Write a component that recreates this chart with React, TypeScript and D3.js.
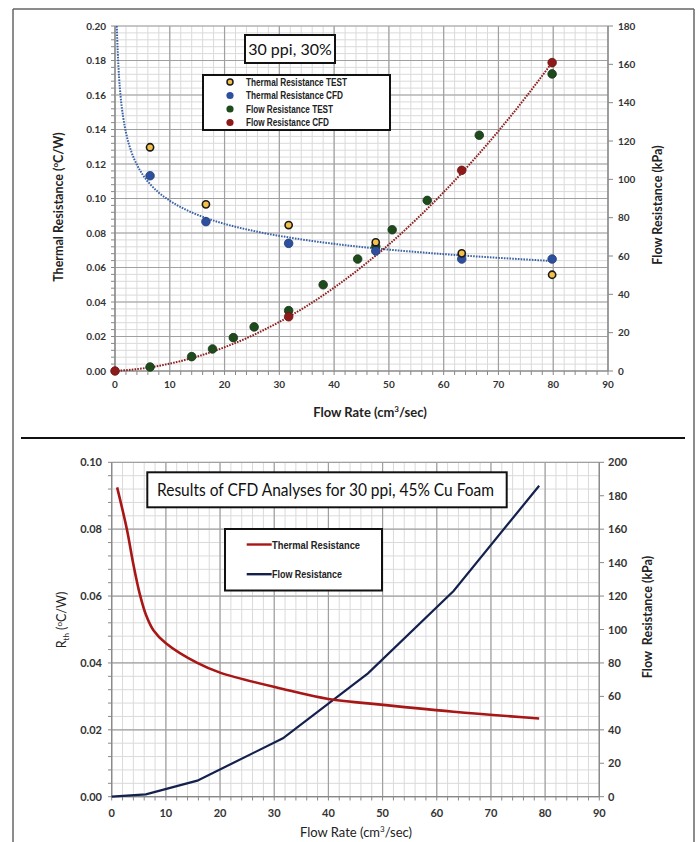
import React from 'react';
import * as d3 from 'd3';

// ---- top chart: 30 ppi, 30% ----
const thermalTestX = [6.4, 16.6, 31.7, 47.6, 63.3, 79.8];
const thermalTestY = [0.1297, 0.0966, 0.0846, 0.0746, 0.0682, 0.0558];
const thermalCfdX = [6.4, 16.6, 31.7, 47.6, 63.3, 79.8];
const thermalCfdY = [0.1132, 0.0866, 0.074, 0.0696, 0.0649, 0.0649];
const flowTestX = [6.4, 14.0, 17.8, 21.6, 25.4, 31.7, 38.0, 44.3, 47.6, 50.6, 57.0, 66.5, 79.8];
const flowTestY = [2.1, 7.5, 11.5, 17.4, 23, 31.5, 45, 58.4, 65, 73.7, 89, 123, 155];
const flowCfdX = [0, 31.7, 63.3, 79.8];
const flowCfdY = [0, 28.3, 104.7, 160.9];

// trendlines
const thermalTrendX = [0.32, 0.5, 0.75, 1, 1.5, 2, 3, 4, 5, 6.5, 8, 10, 13, 16.6, 20, 25, 31.6, 40, 47.5, 55, 63.3, 70, 79.6];
const thermalTrendY = [0.2, 0.1851, 0.170, 0.160, 0.147, 0.1383, 0.127, 0.1196, 0.1141, 0.108, 0.1034, 0.0987, 0.0934, 0.0887, 0.0853, 0.0814, 0.0775, 0.0737, 0.0711, 0.069, 0.067, 0.0656, 0.0638];
const flowTrendX = [0, 5, 10, 15, 20, 25, 30, 35, 40, 45, 50, 55, 60, 65, 70, 75, 79.8];
const flowTrendY = [0, 1.34, 3.85, 7.53, 12.4, 18.4, 25.6, 33.9, 43.5, 54.2, 66.0, 79.1, 93.3, 108.7, 125.2, 142.9, 161];

const topXTicks = [0, 10, 20, 30, 40, 50, 60, 70, 80, 90];
const topLeftTicks = [0, 0.02, 0.04, 0.06, 0.08, 0.1, 0.12, 0.14, 0.16, 0.18, 0.2];
const topRightTicks = [0, 20, 40, 60, 80, 100, 120, 140, 160, 180];
const topLegend = ['Thermal Resistance TEST', 'Thermal Resistance CFD', 'Flow Resistance TEST', 'Flow Resistance CFD'];
const topLegendWidth = [101, 97, 87, 83];

// ---- bottom chart: CFD, 30 ppi, 45% Cu foam ----
const cfdThermalX = [1.0, 2.8, 4.0, 5.2, 6.3, 7.7, 10, 15.8, 20, 31.6, 40, 47.3, 63.1, 78.9];
const cfdThermalY = [0.0925, 0.08, 0.0695, 0.0605, 0.0545, 0.0498, 0.0459, 0.04, 0.0371, 0.0322, 0.0292, 0.0279, 0.0254, 0.0234];
const cfdFlowX = [0, 6.3, 15.8, 31.6, 47.3, 63.1, 78.9];
const cfdFlowY = [0, 1.4, 9.6, 34.9, 73.8, 123, 186];

const botXTicks = [0, 10, 20, 30, 40, 50, 60, 70, 80, 90];
const botLeftTicks = [0, 0.02, 0.04, 0.06, 0.08, 0.1];
const botRightTicks = [0, 20, 40, 60, 80, 100, 120, 140, 160, 180, 200];
const botLegend = ['Thermal Resistance', 'Flow Resistance'];
const botLegendWidth = [88, 70];

const FONT = 'Lato, "Open Sans", sans-serif';
const majorGrid = '#a0a0a0';
const minorGrid = '#dadada';

function Grid({ x, y, yMax, xMinorStep, yMinorStep }: any) {
  const [x0, x1] = x.range();
  const [y0, y1] = y.range();
  const xs = d3.range(0, 90 + 0.001, xMinorStep);
  const ys = d3.range(0, yMax + 1e-9, yMinorStep);
  return (
    <g>
      {xs.map((v, i) => (
        <line key={'mx' + i} x1={x(v)} x2={x(v)} y1={y0} y2={y1} stroke={minorGrid} strokeWidth={1} />
      ))}
      {ys.map((v, i) => (
        <line key={'my' + i} x1={x0} x2={x1} y1={y(v)} y2={y(v)} stroke={minorGrid} strokeWidth={1} />
      ))}
    </g>
  );
}

function TopChart() {
  const x = d3.scaleLinear().domain([0, 90]).range([115, 608]);
  const yL = d3.scaleLinear().domain([0, 0.2]).range([371, 26]);
  const yR = d3.scaleLinear().domain([0, 180]).range([371, 26]);

  const thermalPath = d3.line<number>().x((d, i) => x(thermalTrendX[i])).y((d) => yL(d)).curve(d3.curveMonotoneX)(thermalTrendY);
  const flowPath = d3.line<number>().x((d, i) => x(flowTrendX[i])).y((d) => yR(d)).curve(d3.curveMonotoneX)(flowTrendY);

  const r = 4.3;
  return (
    <g>
      <Grid x={x} y={yL} yMax={0.2} xMinorStep={2} yMinorStep={0.004} />
      {topXTicks.map((v) => (
        <line key={'gx' + v} x1={x(v)} x2={x(v)} y1={371} y2={26} stroke={majorGrid} strokeWidth={1.2} />
      ))}
      {topLeftTicks.map((v) => (
        <line key={'gy' + v} x1={115} x2={608} y1={yL(v)} y2={yL(v)} stroke={majorGrid} strokeWidth={1.2} />
      ))}
      {/* axis lines */}
      <line x1={115} x2={115} y1={26} y2={371} stroke="#888" strokeWidth={1.2} />
      <line x1={115} x2={608} y1={371} y2={371} stroke="#888" strokeWidth={1.2} />
      <line x1={608} x2={608} y1={26} y2={371} stroke="#888" strokeWidth={1.2} />
      {d3.range(0, 90.001, 2).map((v) => (
        <line key={'tx' + v} x1={x(v)} x2={x(v)} y1={371} y2={375} stroke="#888" />
      ))}
      {d3.range(0, 0.2001, 0.004).map((v, i) => (
        <line key={'tl' + i} x1={111} x2={115} y1={yL(v)} y2={yL(v)} stroke="#888" />
      ))}
      {topRightTicks.map((v) => (
        <line key={'tr' + v} x1={608} x2={613} y1={yR(v)} y2={yR(v)} stroke="#888" />
      ))}
      {/* tick labels */}
      {topXTicks.map((v) => (
        <text key={'lx' + v} x={x(v)} y={388} textAnchor="middle" fontSize={10} fontWeight={700} fill="#333">{v}</text>
      ))}
      {topLeftTicks.map((v) => (
        <text key={'ll' + v} x={106} y={yL(v) + 3.5} textAnchor="end" fontSize={10} fontWeight={700} fill="#333">{v.toFixed(2)}</text>
      ))}
      {topRightTicks.map((v) => (
        <text key={'lr' + v} x={618} y={yR(v) + 3.5} textAnchor="start" fontSize={10} fontWeight={700} fill="#333">{v}</text>
      ))}
      {/* axis titles */}
      <text x={370} y={417} textAnchor="middle" fontSize={13} fontWeight={700} fill="#222">
        Flow Rate (cm<tspan dy={-5} fontSize={8}>3</tspan><tspan dy={5}>/sec)</tspan>
      </text>
      <text transform="translate(63,207) rotate(-90)" textAnchor="middle" fontSize={12.5} fontWeight={700} fill="#222">
        Thermal Resistance (<tspan dy={-5} fontSize={8}>o</tspan><tspan dy={5}>C/W)</tspan>
      </text>
      <text transform="translate(662,205) rotate(-90)" textAnchor="middle" fontSize={12.5} fontWeight={700} fill="#222">
        Flow Resistance (kPa)
      </text>
      {/* trendlines */}
      <path d={thermalPath || ''} fill="none" stroke="#3b62a8" strokeWidth={2} strokeDasharray="1.6,1.2" />
      <path d={flowPath || ''} fill="none" stroke="#8e1d1d" strokeWidth={2} strokeDasharray="1.6,1.2" />
      {/* markers */}
      {flowTestY.map((v, i) => (
        <circle key={'ft' + i} cx={x(flowTestX[i])} cy={yR(v)} r={r} fill="#1f4a1c" stroke="#16341a" strokeWidth={0.8} />
      ))}
      {flowCfdY.map((v, i) => (
        <circle key={'fc' + i} cx={x(flowCfdX[i])} cy={yR(v)} r={r} fill="#8e1a1a" stroke="#6a1212" strokeWidth={0.8} />
      ))}
      {thermalCfdY.map((v, i) => (
        <circle key={'tc' + i} cx={x(thermalCfdX[i])} cy={yL(v)} r={r} fill="#2d4f9e" stroke="#223c7a" strokeWidth={0.8} />
      ))}
      {thermalTestY.map((v, i) => (
        <circle key={'tt' + i} cx={x(thermalTestX[i])} cy={yL(v)} r={3.6} fill="#f4c04a" stroke="#1a1a1a" strokeWidth={1.6} />
      ))}
      {/* title box */}
      <rect x={245} y={35} width={90} height={28} fill="#fff" stroke="#111" strokeWidth={2} />
      <text x={290} y={55} textAnchor="middle" fontSize={16} fill="#111">30 ppi, 30%</text>
      {/* legend */}
      <rect x={203} y={75} width={187} height={55} fill="#fff" stroke="#111" strokeWidth={2} />
      {topLegend.map((t, i) => {
        const cy = 82 + i * 13.5;
        const fills = ['#f4c04a', '#2d4f9e', '#1f4a1c', '#8e1a1a'];
        return (
          <g key={t}>
            <circle cx={230} cy={cy} r={i === 0 ? 3 : 3.6} fill={fills[i]} stroke={i === 0 ? '#1a1a1a' : 'none'} strokeWidth={1.5} />
            <text x={246} y={cy + 3.5} fontSize={10.5} fontWeight={700} fill="#222" fontFamily='"Liberation Sans Narrow", sans-serif'
              textLength={topLegendWidth[i]} lengthAdjust="spacingAndGlyphs">{t}</text>
          </g>
        );
      })}
    </g>
  );
}

function BottomChart() {
  const x = d3.scaleLinear().domain([0, 90]).range([111.7, 599.3]);
  const yL = d3.scaleLinear().domain([0, 0.1]).range([796.7, 462.3]);
  const yR = d3.scaleLinear().domain([0, 200]).range([796.7, 462.3]);

  const thermalPath = d3.line<number>().x((d, i) => x(cfdThermalX[i])).y((d) => yL(d)).curve(d3.curveCatmullRom.alpha(0.5))(cfdThermalY);
  const flowPath = d3.line<number>().x((d, i) => x(cfdFlowX[i])).y((d) => yR(d))(cfdFlowY);

  return (
    <g>
      <Grid x={x} y={yL} yMax={0.1} xMinorStep={2} yMinorStep={0.004} />
      {botXTicks.map((v) => (
        <line key={'gx' + v} x1={x(v)} x2={x(v)} y1={796.7} y2={462.3} stroke={majorGrid} strokeWidth={1.2} />
      ))}
      {botLeftTicks.map((v) => (
        <line key={'gy' + v} x1={111.7} x2={599.3} y1={yL(v)} y2={yL(v)} stroke={majorGrid} strokeWidth={1.2} />
      ))}
      <line x1={111.7} x2={111.7} y1={462.3} y2={796.7} stroke="#888" strokeWidth={1.2} />
      <line x1={111.7} x2={599.3} y1={796.7} y2={796.7} stroke="#888" strokeWidth={1.2} />
      <line x1={599.3} x2={599.3} y1={462.3} y2={796.7} stroke="#888" strokeWidth={1.2} />
      {d3.range(0, 90.001, 2).map((v) => (
        <line key={'tx' + v} x1={x(v)} x2={x(v)} y1={796.7} y2={800.5} stroke="#888" />
      ))}
      {d3.range(0, 0.1001, 0.004).map((v, i) => (
        <line key={'tl' + i} x1={108} x2={111.7} y1={yL(v)} y2={yL(v)} stroke="#888" />
      ))}
      {botRightTicks.map((v) => (
        <line key={'tr' + v} x1={599.3} x2={604} y1={yR(v)} y2={yR(v)} stroke="#888" />
      ))}
      {botXTicks.map((v) => (
        <text key={'lx' + v} x={x(v)} y={817} textAnchor="middle" fontSize={11} fontWeight={700} fill="#333">{v}</text>
      ))}
      {botLeftTicks.map((v) => (
        <text key={'ll' + v} x={102} y={yL(v) + 4} textAnchor="end" fontSize={11} fontWeight={700} fill="#333">{v.toFixed(2)}</text>
      ))}
      {botRightTicks.map((v) => (
        <text key={'lr' + v} x={608} y={yR(v) + 4} textAnchor="start" fontSize={11} fontWeight={700} fill="#333">{v}</text>
      ))}
      <text x={356} y={837} textAnchor="middle" fontSize={13} fill="#222">
        Flow Rate (cm<tspan dy={-5} fontSize={8}>3</tspan><tspan dy={5}>/sec)</tspan>
      </text>
      <text transform="translate(66,620) rotate(-90)" textAnchor="middle" fontSize={12.5} fill="#222">
        R<tspan dy={3} fontSize={8}>th</tspan><tspan dy={-3}> (</tspan><tspan dy={-4} fontSize={8}>o</tspan><tspan dy={4}>C/W)</tspan>
      </text>
      <text transform="translate(652,617) rotate(-90)" textAnchor="middle" fontSize={12.5} fontWeight={700} fill="#222" style={{ whiteSpace: 'pre' }}>
        {'Flow  Resistance (kPa)'}
      </text>
      <path d={flowPath || ''} fill="none" stroke="#14214d" strokeWidth={2.2} />
      <path d={thermalPath || ''} fill="none" stroke="#a81616" strokeWidth={2.6} />
      <rect x={147.3} y={472.3} width={359.4} height={35} fill="#fff" stroke="#111" strokeWidth={2} />
      <text x={157} y={496} fontSize={16.5} fill="#111" textLength={337} lengthAdjust="spacingAndGlyphs">Results of CFD Analyses for 30 ppi, 45% Cu Foam</text>
      <rect x={225} y={529} width={157} height={61.5} fill="#fff" stroke="#111" strokeWidth={2} />
      {botLegend.map((t, i) => {
        const cy = 544.5 + i * 29.7;
        const colors = ['#a81616', '#14214d'];
        return (
          <g key={t}>
            <line x1={246.7} x2={271.7} y1={cy} y2={cy} stroke={colors[i]} strokeWidth={2.4} />
            <text x={272} y={cy + 4} fontSize={11} fontWeight={700} fill="#222" fontFamily='"Liberation Sans Narrow", sans-serif'
              textLength={botLegendWidth[i]} lengthAdjust="spacingAndGlyphs">{t}</text>
          </g>
        );
      })}
    </g>
  );
}

export default function App() {
  return (
    <svg width={698} height={842} style={{ position: 'absolute', left: 0, top: 0, display: 'block', background: '#fff' }} fontFamily={FONT}>
      <rect x={0} y={0} width={698} height={842} fill="#fff" />
      <line x1={13} x2={694} y1={9} y2={9} stroke="#666" strokeWidth={1.5} />
      <line x1={13} x2={13} y1={9} y2={842} stroke="#666" strokeWidth={1.5} />
      <line x1={694} x2={694} y1={9} y2={842} stroke="#666" strokeWidth={1.5} />
      <line x1={21} x2={685} y1={438} y2={438} stroke="#111" strokeWidth={2} />
      <TopChart />
      <BottomChart />
    </svg>
  );
}
